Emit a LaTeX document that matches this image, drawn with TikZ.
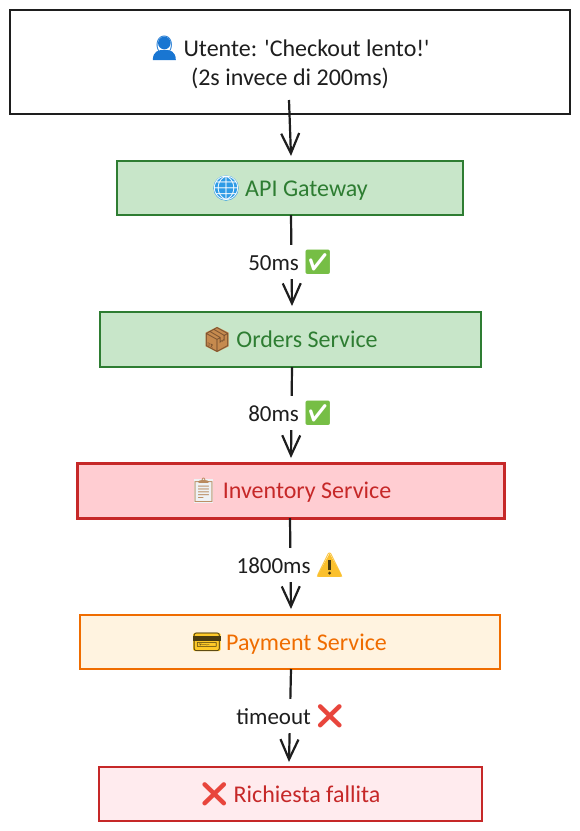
\documentclass[tikz,border=0pt]{standalone}
\usepackage{fontspec}
\newfontfamily\hand{Carlito}
\newfontfamily\emo{Noto Emoji}
\usetikzlibrary{arrows.meta}
\definecolor{ink}{HTML}{1E1E1E}
\definecolor{gs}{HTML}{2E7D32}\definecolor{gf}{HTML}{C8E6C9}
\definecolor{rs}{HTML}{C62828}\definecolor{rf}{HTML}{FFCDD2}
\definecolor{os}{HTML}{EF6C00}\definecolor{of}{HTML}{FFF3E0}
\definecolor{lf}{HTML}{FFEBEE}
\definecolor{blu}{HTML}{1976D2}\definecolor{sky}{HTML}{2E9BE6}
\definecolor{chk}{HTML}{76BE45}\definecolor{boxc}{HTML}{C68A4E}
\definecolor{boxd}{HTML}{7A5230}\definecolor{clipc}{HTML}{B98A5E}
\definecolor{paper}{HTML}{EEF2F5}\definecolor{warn}{HTML}{FBC02D}
\definecolor{card}{HTML}{FFCA28}\definecolor{cardd}{HTML}{4A3B10}
\definecolor{xred}{HTML}{E8453C}
\newcommand{\emjglyph}[2]{\node[inner sep=0pt,text=#1,font=\emo\fontsize{24}{24}\selectfont] at (0,0) {#2};}
\newcommand{\emjbox}[1]{\tikz[scale=1.15,baseline={(0,8)}]{\useasboundingbox (-12,-12) rectangle (12,12); #1}}
\newcommand{\emuser}{\emjbox{\fill[blu] (0,-5) circle (5.5);\fill[blu] (-10,10) .. controls (-10,2) and (-5,1) .. (0,1) .. controls (5,1) and (10,2) .. (10,10) -- cycle;\emjglyph{blu}{👤}}}
\newcommand{\emglobe}{\emjbox{\fill[sky] (0,0) circle (11);\emjglyph{white}{🌐}}}
\newcommand{\empack}{\emjbox{\fill[boxc] (0,-11) -- (10,-6) -- (10,6) -- (0,11) -- (-10,6) -- (-10,-6) -- cycle;\emjglyph{boxd}{📦}}}
\newcommand{\emclip}{\emjbox{\fill[paper] (-8,-10) rectangle (8,11);\emjglyph{clipc}{📋}}}
\newcommand{\emcard}{\emjbox{\fill[card,rounded corners=1.5pt] (-12,-8) rectangle (12,8);\fill[cardd] (-12,-5) rectangle (12,-1);\emjglyph{cardd}{💳}}}
\newcommand{\emwarn}{\emjbox{\fill[warn] (0,-10) -- (11,10) -- (-11,10) -- cycle;\emjglyph{warn}{⚠}\fill[cardd] (-1.2,-4) rectangle (1.2,4);\fill[cardd] (0,7) circle (1.4);}}
\newcommand{\emok}{\emjbox{\emjglyph{chk}{✅}}}
\newcommand{\emno}{\emjbox{\emjglyph{xred}{❌}}}
\tikzset{
  x=1pt,y=-1pt,
  stage/.style={draw,rectangle,inner sep=0pt,align=center,
    font=\hand\fontsize{24}{29}\selectfont},
  flow/.style={draw=ink,line width=2.2pt,-{Straight Barb[length=20pt,width=18pt,line width=2.2pt]}},
  tag/.style={fill=white,inner ysep=3pt,inner xsep=2pt,text=ink,font=\hand\fontsize{23}{26}\selectfont},
}
\newcommand{\stagebox}[7]{% name x1 y1 x2 y2 style text
  \node[stage,#6,minimum width=#4pt-#2pt,minimum height=#5pt-#3pt] (#1) at ({(#2+#4)/2},{(#3+#5)/2}) {#7};}
\begin{document}
\begin{tikzpicture}
\useasboundingbox (0,0) rectangle (580,831);
\fill[white] (0,0) rectangle (580,831);
\stagebox{user}{10}{10}{570}{114}{draw=ink,line width=2pt,text=ink}{\emuser{} Utente: 'Checkout lento!'\\(2s invece di 200ms)}
\stagebox{api}{117}{161}{463}{215}{draw=gs,fill=gf,line width=2pt,text=gs}{\emglobe{} API Gateway}
\stagebox{orders}{100}{312}{481}{367}{draw=gs,fill=gf,line width=2pt,text=gs}{\empack{} Orders Service}
\stagebox{inv}{77}{463}{504}{518}{draw=rs,fill=rf,line width=3pt,text=rs}{\emclip{} Inventory Service}
\stagebox{pay}{80}{615}{500}{669}{draw=os,fill=of,line width=2.5pt,text=os}{\emcard{} Payment Service}
\stagebox{fail}{99}{767}{482}{821}{draw=rs,fill=lf,line width=2pt,text=rs}{\emno{} Richiesta fallita}
\coordinate (ustart) at (289,100);
\coordinate (a1) at (291,156);
\coordinate (s2) at (291,215);\coordinate (a2) at (292,306);
\coordinate (s3) at (292,367);\coordinate (a3) at (291,458);
\coordinate (s4) at (290,518);\coordinate (a4) at (291,609);
\coordinate (s5) at (291,669);\coordinate (a5) at (289,762);
\draw[flow] (ustart) -- (a1);
\draw[flow] (s2) -- (a2);
\draw[flow] (s3) -- (a3);
\draw[flow] (s4) -- (a4);
\draw[flow] (s5) -- (a5);
\node[tag] (l2) at (290,262) {50ms \emok};
\node[tag] (l3) at (290,413) {80ms \emok};
\node[tag] (l4) at (290,565) {1800ms \emwarn};
\node[tag] (l5) at (290,716) {timeout \emno};
\end{tikzpicture}
\end{document}
